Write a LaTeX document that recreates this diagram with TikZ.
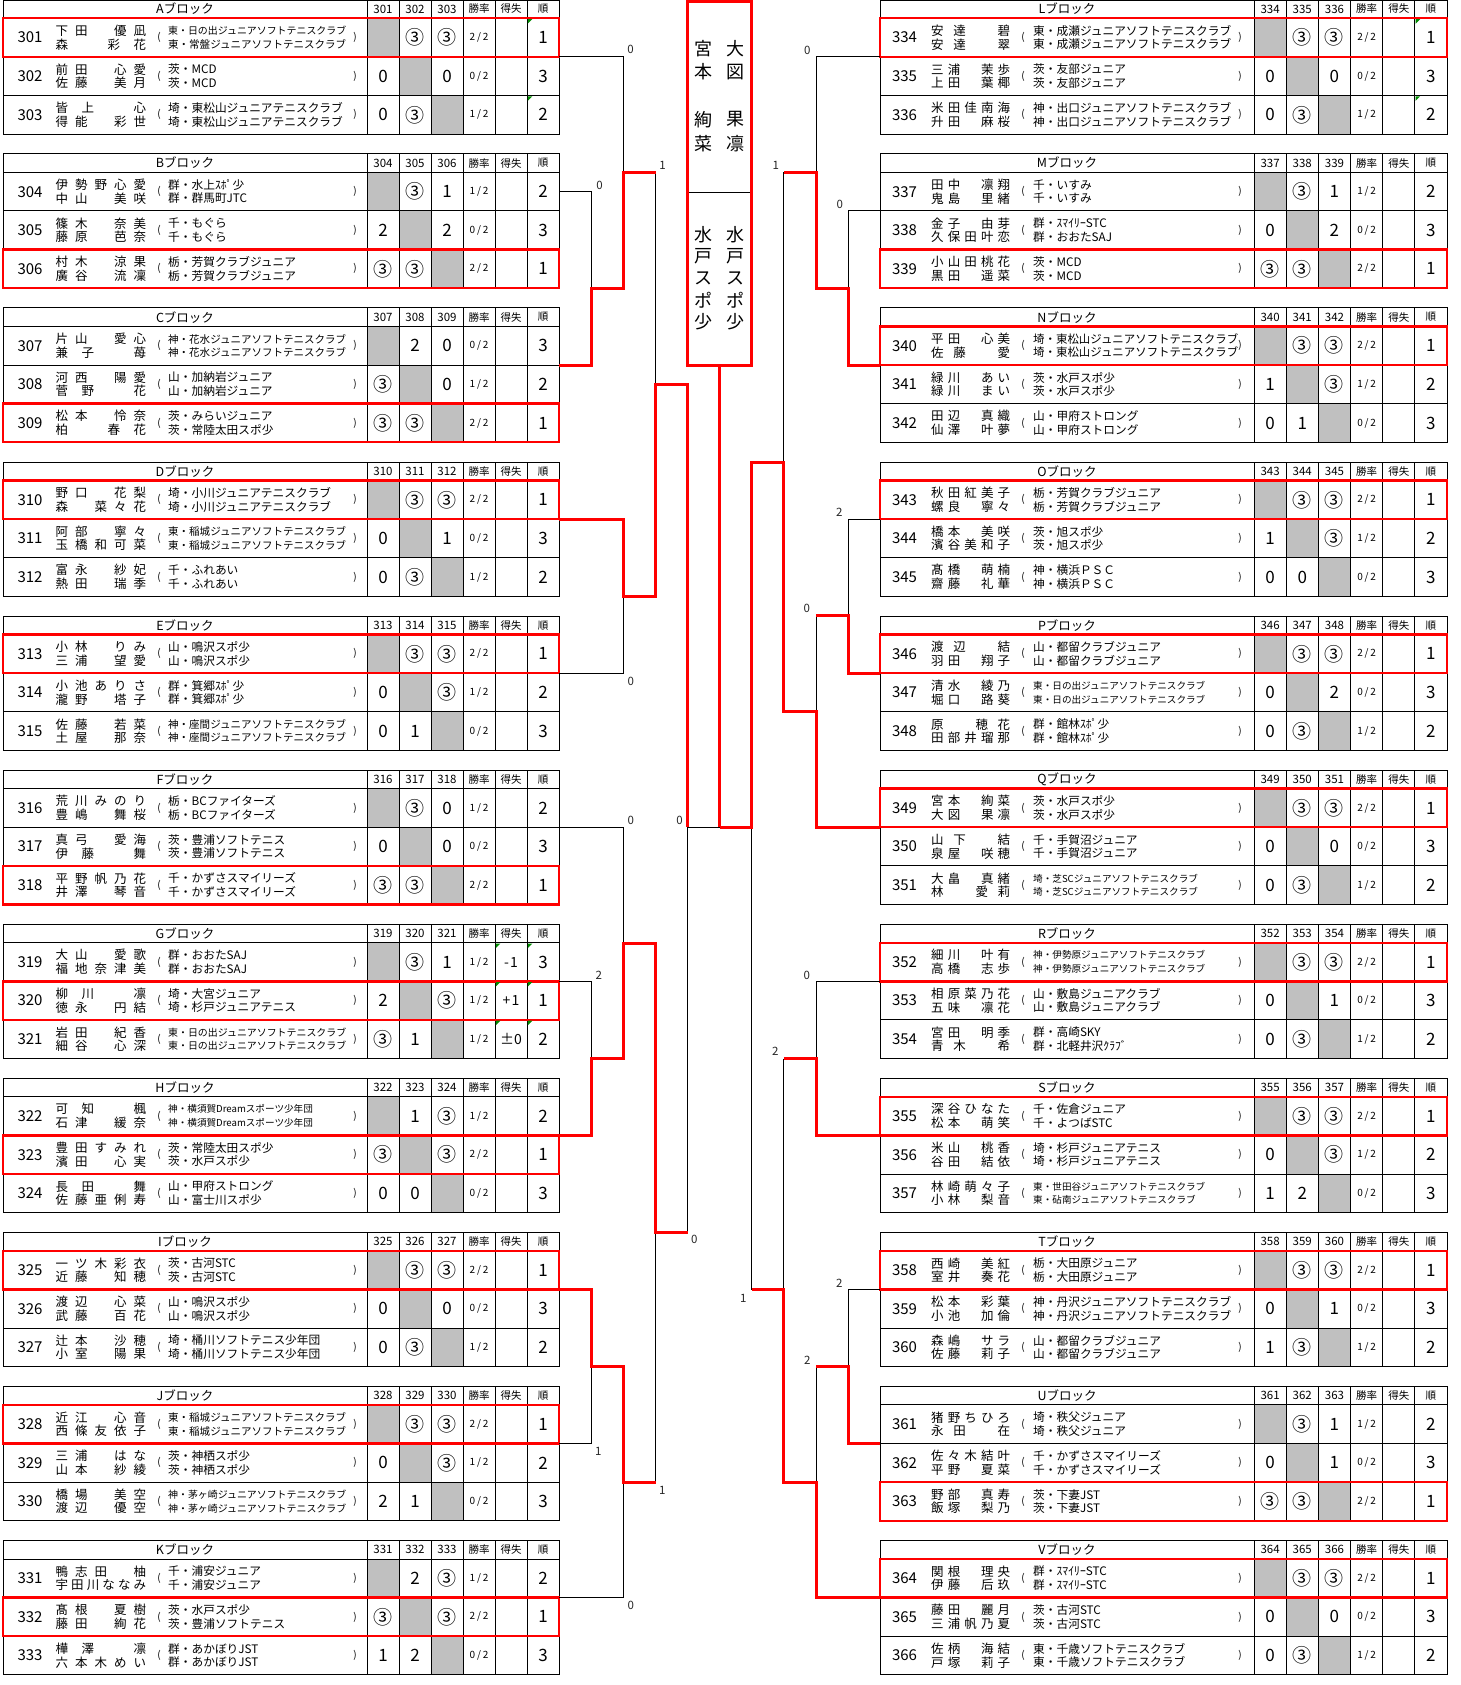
\documentclass[tikz,border=0pt]{standalone}
\usepackage{fontspec}
\setmainfont{Noto Sans CJK JP}
\usepackage{graphicx}
\definecolor{rd}{RGB}{255,0,0}
\definecolor{gr}{RGB}{192,192,192}
\definecolor{gm}{RGB}{0,140,0}
\newcommand\fs[1]{\fontsize{#1}{#1}\selectfont}
\ExplSyntaxOn
\bool_new:N \l__dist_first_bool
\NewDocumentCommand \distr { m m }
  {
    \hbox_to_wd:nn { #1 }
      {
        \bool_set_true:N \l__dist_first_bool
        \tl_map_inline:nn { #2 }
          {
            \bool_if:NF \l__dist_first_bool { \hfill }
            \bool_set_false:N \l__dist_first_bool
            \tl_if_eq:nnTF { ##1 } { * } { \hbox_to_wd:nn { 1em } { } } { ##1 }
          }
      }
  }
\ExplSyntaxOff
\newcommand\cir{{\fs{19}③}}
\def\rtx#1/#2\relax{#1\kern1.8pt/\kern1.8pt#2}
\def\sideL{\def\xA{3}\def\xB{559}\def\xS{367}\def\cW{32}\def\numX{30}\def\nameX{55.4}\def\nameW{90.6}\def\parL{159}\def\clubX{168}\def\clubW{178}\def\parR{355}}
\def\sideR{\def\xA{880}\def\xB{1447}\def\xS{1254}\def\cW{32.17}\def\numX{904.5}\def\nameX{931}\def\nameW{79}\def\parL{1023}\def\clubX{1033}\def\clubW{205}\def\parR{1240}}
\newcommand\fitbox[1]{\sbox4{#1}\ifdim\wd4>\clubW pt\resizebox{\clubW pt}{!}{\usebox4}\else\usebox4\fi}
\newcommand\clubs[3]{%
  \def\clubfs{11.7}%
  \ifx s#1\def\clubfs{9.6}\fi
  \ifx a#1%
    \sbox0{\fs{11.7}#2}\sbox2{\fs{11.7}#3}%
    \ifdim\wd0>\clubW pt\def\clubfs{9.6}\fi
    \ifdim\wd2>\clubW pt\def\clubfs{9.6}\fi
  \fi
  \node[club] (ca\rn) at (\clubX,\cy-6.8) {\fitbox{\fs{\clubfs}#2}};
  \node[club] (cb\rn) at (\clubX,\cy+6.8) {\fitbox{\fs{\clubfs}#3}};
}
\newcommand\TBlock[7]{%
  \csname side#1\endcsname
  \pgfmathsetmacro\Rk{18.3+154.07*#2}%
  \pgfmathsetmacro\Hk{max(0.6,\Rk-18.5)}%
  \pgfmathsetmacro\Bk{\Rk+115.8}%
  \pgfmathsetmacro\gA{\xS}\pgfmathsetmacro\gB{\xS+\cW}\pgfmathsetmacro\gC{\xS+2*\cW}%
  \fill[gr] (\gA,\Rk) rectangle ++(\cW,38.6);
  \fill[gr] (\gB,\Rk+38.6) rectangle ++(\cW,38.6);
  \fill[gr] (\gC,\Rk+77.2) rectangle ++(\cW,38.6);
  \draw[tbl] (\xA,\Hk) rectangle (\xB,\Bk);
  \draw[tbl] (\xA,\Rk) -- (\xB,\Rk) (\xA,\Rk+38.6) -- (\xB,\Rk+38.6) (\xA,\Rk+77.2) -- (\xB,\Rk+77.2);
  \foreach \cc in {0,...,5}{\draw[tbl] ({\xS+\cW*\cc},\Hk) -- ({\xS+\cW*\cc},\Bk);}
  \node[hdr] (hd#3) at ({(\xA+\xS)/2},\Rk-9.3) {#3ブロック};
  \node[chd] (ha#3) at (\xS+\cW*0.5,\Rk-9.3) {#4};
  \node[chd] (hb#3) at (\xS+\cW*1.5,\Rk-9.3) {#5};
  \node[chd] (hc#3) at (\xS+\cW*2.5,\Rk-9.3) {#6};
  \node[chj] (hr#3) at (\xS+\cW*3.5,\Rk-9.3) {勝率};
  \node[chj] (hs#3) at (\xS+\cW*4.5,\Rk-9.3) {得失};
  \node[chj] (hk#3) at (\xS+\cW*5.5,\Rk-9.3) {順};
  \draw[redbox] (\xA,\Rk+38.6*#7) rectangle (\xB,\Rk+38.6*#7+38.6);
}
\newcommand\TRow[9]{%
  \csname side#1\endcsname
  \pgfmathsetmacro\cy{18.3+154.07*#2+38.6*#3+19.3}%
  \def\rn{#4}%
  \node[num] (n#4) at (\numX,\cy) {#4};
  \node[nm] (na#4) at (\nameX,\cy-6.8) {\distr{\nameW pt}{#5}};
  \node[nm] (nb#4) at (\nameX,\cy+6.8) {\distr{\nameW pt}{#6}};
  \node[par] (pl#4) at (\parL,\cy) {(};
  \node[par] (pr#4) at (\parR,\cy) {)};
  \clubs{#9}{#7}{#8}%
  \TSc}
\newcommand\TSc[6]{%
  \node[sc] (sa\rn) at (\xS+\cW*0.5,\cy) {#1};
  \node[sc] (sb\rn) at (\xS+\cW*1.5,\cy) {#2};
  \node[sc] (sc\rn) at (\xS+\cW*2.5,\cy) {#3};
  \node[rate] (sr\rn) at (\xS+\cW*3.5,\cy) {\rtx#4\relax};
  \node[dif] (sd\rn) at (\xS+\cW*4.5,\cy) {#5};
  \node[rank] (sk\rn) at (\xS+\cW*5.5,\cy) {#6};
}
\newcommand\gmk[4]{\csname side#1\endcsname
  \pgfmathsetmacro\gx{\xS+\cW*#4}\pgfmathsetmacro\gy{18.3+154.07*#2+38.6*#3}%
  \fill[gm] (\gx+0.8,\gy+0.8) -- ++(4.5,0) -- ++(-4.5,4.5) -- cycle;}
\tikzset{
 tbl/.style={draw=black, line width=1pt},
 redbox/.style={draw=rd, line width=2.4pt},
 num/.style={inner sep=0pt, font=\fs{15}},
 nm/.style={inner sep=0pt, anchor=west, font=\fs{12.5}},
 club/.style={inner sep=0pt, anchor=west},
 par/.style={inner sep=0pt, font=\fs{10}},
 sc/.style={inner sep=0pt, font=\fs{17}},
 dif/.style={inner sep=0pt, font=\fs{14}},
 rate/.style={inner sep=0pt, font=\fs{10}},
 rank/.style={inner sep=0pt, font=\fs{17}},
 hdr/.style={inner sep=0pt, font=\fs{12.5}},
 chd/.style={inner sep=0pt, font=\fs{11.5}},
 chj/.style={inner sep=0pt, font=\fs{10.5}},
 bk/.style={draw=black, line width=1pt},
 rl/.style={draw=rd, line width=3pt, line join=miter},
 lbl/.style={inner sep=0pt, font=\fs{11.5}, text=black!85},
 vt/.style={inner sep=0pt, font=\fs{18}},
}
\begin{document}
\begin{tikzpicture}[x=1pt,y=-1pt]
\fill[white] (0,0) rectangle (1460,1685);
\useasboundingbox (0,0) rectangle (1460,1685);

% ---------------- left tables
\TBlock{L}{0}{A}{301}{302}{303}{0}
\TRow{L}{0}{0}{301}{下田*優凪}{森*彩花}{東・日の出ジュニアソフトテニスクラブ}{東・常盤ジュニアソフトテニスクラブ}{a}{}{\cir}{\cir}{2/2}{}{1}
\TRow{L}{0}{1}{302}{前田*心愛}{佐藤*美月}{茨・MCD}{茨・MCD}{a}{0}{}{0}{0/2}{}{3}
\TRow{L}{0}{2}{303}{皆上*心}{得能*彩世}{埼・東松山ジュニアテニスクラブ}{埼・東松山ジュニアテニスクラブ}{a}{0}{\cir}{}{1/2}{}{2}

\TBlock{L}{1}{B}{304}{305}{306}{2}
\TRow{L}{1}{0}{304}{伊勢野心愛}{中山*美咲}{群・水上ｽﾎﾟ少}{群・群馬町JTC}{a}{}{\cir}{1}{1/2}{}{2}
\TRow{L}{1}{1}{305}{篠木*奈美}{藤原*芭奈}{千・もぐら}{千・もぐら}{a}{2}{}{2}{0/2}{}{3}
\TRow{L}{1}{2}{306}{村木*涼果}{廣谷*流凜}{栃・芳賀クラブジュニア}{栃・芳賀クラブジュニア}{a}{\cir}{\cir}{}{2/2}{}{1}

\TBlock{L}{2}{C}{307}{308}{309}{2}
\TRow{L}{2}{0}{307}{片山*愛心}{兼子*苺}{神・花水ジュニアソフトテニスクラブ}{神・花水ジュニアソフトテニスクラブ}{a}{}{2}{0}{0/2}{}{3}
\TRow{L}{2}{1}{308}{河西*陽愛}{菅野*花}{山・加納岩ジュニア}{山・加納岩ジュニア}{a}{\cir}{}{0}{1/2}{}{2}
\TRow{L}{2}{2}{309}{松本*怜奈}{柏*春花}{茨・みらいジュニア}{茨・常陸太田スポ少}{a}{\cir}{\cir}{}{2/2}{}{1}

\TBlock{L}{3}{D}{310}{311}{312}{0}
\TRow{L}{3}{0}{310}{野口*花梨}{森*菜々花}{埼・小川ジュニアテニスクラブ}{埼・小川ジュニアテニスクラブ}{a}{}{\cir}{\cir}{2/2}{}{1}
\TRow{L}{3}{1}{311}{阿部*寧々}{玉橋和可菜}{東・稲城ジュニアソフトテニスクラブ}{東・稲城ジュニアソフトテニスクラブ}{a}{0}{}{1}{0/2}{}{3}
\TRow{L}{3}{2}{312}{富永*紗妃}{熱田*瑞季}{千・ふれあい}{千・ふれあい}{a}{0}{\cir}{}{1/2}{}{2}

\TBlock{L}{4}{E}{313}{314}{315}{0}
\TRow{L}{4}{0}{313}{小林*りみ}{三浦*望愛}{山・鳴沢スポ少}{山・鳴沢スポ少}{a}{}{\cir}{\cir}{2/2}{}{1}
\TRow{L}{4}{1}{314}{小池ありさ}{瀧野*塔子}{群・箕郷ｽﾎﾟ少}{群・箕郷ｽﾎﾟ少}{a}{0}{}{\cir}{1/2}{}{2}
\TRow{L}{4}{2}{315}{佐藤*若菜}{土屋*那奈}{神・座間ジュニアソフトテニスクラブ}{神・座間ジュニアソフトテニスクラブ}{a}{0}{1}{}{0/2}{}{3}

\TBlock{L}{5}{F}{316}{317}{318}{2}
\TRow{L}{5}{0}{316}{荒川みのり}{豊嶋*舞桜}{栃・BCファイターズ}{栃・BCファイターズ}{a}{}{\cir}{0}{1/2}{}{2}
\TRow{L}{5}{1}{317}{真弓*愛海}{伊藤*舞}{茨・豊浦ソフトテニス}{茨・豊浦ソフトテニス}{a}{0}{}{0}{0/2}{}{3}
\TRow{L}{5}{2}{318}{平野帆乃花}{井澤*琴音}{千・かずさスマイリーズ}{千・かずさスマイリーズ}{a}{\cir}{\cir}{}{2/2}{}{1}

\TBlock{L}{6}{G}{319}{320}{321}{1}
\TRow{L}{6}{0}{319}{大山*愛歌}{福地奈津美}{群・おおたSAJ}{群・おおたSAJ}{a}{}{\cir}{1}{1/2}{-\kern1pt1}{3}
\TRow{L}{6}{1}{320}{柳川*凛}{徳永*円結}{埼・大宮ジュニア}{埼・杉戸ジュニアテニス}{a}{2}{}{\cir}{1/2}{+\kern1pt1}{1}
\TRow{L}{6}{2}{321}{岩田*紀香}{細谷*心深}{東・日の出ジュニアソフトテニスクラブ}{東・日の出ジュニアソフトテニスクラブ}{a}{\cir}{1}{}{1/2}{±0}{2}

\TBlock{L}{7}{H}{322}{323}{324}{1}
\TRow{L}{7}{0}{322}{可知*楓}{石津*緩奈}{神・横須賀Dreamスポーツ少年団}{神・横須賀Dreamスポーツ少年団}{s}{}{1}{\cir}{1/2}{}{2}
\TRow{L}{7}{1}{323}{豊田すみれ}{濱田*心実}{茨・常陸太田スポ少}{茨・水戸スポ少}{a}{\cir}{}{\cir}{2/2}{}{1}
\TRow{L}{7}{2}{324}{長田*舞}{佐藤亜俐寿}{山・甲府ストロング}{山・富士川スポ少}{a}{0}{0}{}{0/2}{}{3}

\TBlock{L}{8}{I}{325}{326}{327}{0}
\TRow{L}{8}{0}{325}{一ツ木彩衣}{近藤*知穂}{茨・古河STC}{茨・古河STC}{a}{}{\cir}{\cir}{2/2}{}{1}
\TRow{L}{8}{1}{326}{渡辺*心菜}{武藤*百花}{山・鳴沢スポ少}{山・鳴沢スポ少}{a}{0}{}{0}{0/2}{}{3}
\TRow{L}{8}{2}{327}{辻本*沙穂}{小室*陽果}{埼・桶川ソフトテニス少年団}{埼・桶川ソフトテニス少年団}{a}{0}{\cir}{}{1/2}{}{2}

\TBlock{L}{9}{J}{328}{329}{330}{0}
\TRow{L}{9}{0}{328}{近江*心音}{西條友依子}{東・稲城ジュニアソフトテニスクラブ}{東・稲城ジュニアソフトテニスクラブ}{a}{}{\cir}{\cir}{2/2}{}{1}
\TRow{L}{9}{1}{329}{三浦*はな}{山本*紗綾}{茨・神栖スポ少}{茨・神栖スポ少}{a}{0}{}{\cir}{1/2}{}{2}
\TRow{L}{9}{2}{330}{橋場*美空}{渡辺*優空}{神・茅ヶ崎ジュニアソフトテニスクラブ}{神・茅ヶ崎ジュニアソフトテニスクラブ}{a}{2}{1}{}{0/2}{}{3}

\TBlock{L}{10}{K}{331}{332}{333}{1}
\TRow{L}{10}{0}{331}{鴨志田*柚}{宇田川ななみ}{千・浦安ジュニア}{千・浦安ジュニア}{a}{}{2}{\cir}{1/2}{}{2}
\TRow{L}{10}{1}{332}{髙根*夏樹}{藤田*絢花}{茨・水戸スポ少}{茨・豊浦ソフトテニス}{a}{\cir}{}{\cir}{2/2}{}{1}
\TRow{L}{10}{2}{333}{樺澤*凛}{六本木めい}{群・あかぼりJST}{群・あかぼりJST}{a}{1}{2}{}{0/2}{}{3}

% ---------------- right tables
\TBlock{R}{0}{L}{334}{335}{336}{0}
\TRow{R}{0}{0}{334}{安達*碧}{安達*翠}{東・成瀬ジュニアソフトテニスクラブ}{東・成瀬ジュニアソフトテニスクラブ}{a}{}{\cir}{\cir}{2/2}{}{1}
\TRow{R}{0}{1}{335}{三浦*茉歩}{上田*葉椰}{茨・友部ジュニア}{茨・友部ジュニア}{a}{0}{}{0}{0/2}{}{3}
\TRow{R}{0}{2}{336}{米田佳南海}{升田*麻桜}{神・出口ジュニアソフトテニスクラブ}{神・出口ジュニアソフトテニスクラブ}{a}{0}{\cir}{}{1/2}{}{2}

\TBlock{R}{1}{M}{337}{338}{339}{2}
\TRow{R}{1}{0}{337}{田中*凛翔}{鬼島*里緒}{千・いすみ}{千・いすみ}{a}{}{\cir}{1}{1/2}{}{2}
\TRow{R}{1}{1}{338}{金子*由芽}{久保田叶恋}{群・ｽﾏｲﾘｰSTC}{群・おおたSAJ}{a}{0}{}{2}{0/2}{}{3}
\TRow{R}{1}{2}{339}{小山田桃花}{黒田*遥菜}{茨・MCD}{茨・MCD}{a}{\cir}{\cir}{}{2/2}{}{1}

\TBlock{R}{2}{N}{340}{341}{342}{0}
\TRow{R}{2}{0}{340}{平田*心美}{佐藤*愛}{埼・東松山ジュニアソフトテニスクラブ}{埼・東松山ジュニアソフトテニスクラブ}{n}{}{\cir}{\cir}{2/2}{}{1}
\TRow{R}{2}{1}{341}{緑川*あい}{緑川*まい}{茨・水戸スポ少}{茨・水戸スポ少}{a}{1}{}{\cir}{1/2}{}{2}
\TRow{R}{2}{2}{342}{田辺*真織}{仙澤*叶夢}{山・甲府ストロング}{山・甲府ストロング}{a}{0}{1}{}{0/2}{}{3}

\TBlock{R}{3}{O}{343}{344}{345}{0}
\TRow{R}{3}{0}{343}{秋田紅美子}{螺良*寧々}{栃・芳賀クラブジュニア}{栃・芳賀クラブジュニア}{a}{}{\cir}{\cir}{2/2}{}{1}
\TRow{R}{3}{1}{344}{橋本*美咲}{濱谷美和子}{茨・旭スポ少}{茨・旭スポ少}{a}{1}{}{\cir}{1/2}{}{2}
\TRow{R}{3}{2}{345}{髙橋*萌楠}{齋藤*礼華}{神・横浜ＰＳＣ}{神・横浜ＰＳＣ}{a}{0}{0}{}{0/2}{}{3}

\TBlock{R}{4}{P}{346}{347}{348}{0}
\TRow{R}{4}{0}{346}{渡辺*結}{羽田*翔子}{山・都留クラブジュニア}{山・都留クラブジュニア}{a}{}{\cir}{\cir}{2/2}{}{1}
\TRow{R}{4}{1}{347}{清水*綾乃}{堀口*路葵}{東・日の出ジュニアソフトテニスクラブ}{東・日の出ジュニアソフトテニスクラブ}{s}{0}{}{2}{0/2}{}{3}
\TRow{R}{4}{2}{348}{原*穂花}{田部井瑠那}{群・館林ｽﾎﾟ少}{群・館林ｽﾎﾟ少}{a}{0}{\cir}{}{1/2}{}{2}

\TBlock{R}{5}{Q}{349}{350}{351}{0}
\TRow{R}{5}{0}{349}{宮本*絢菜}{大図*果凛}{茨・水戸スポ少}{茨・水戸スポ少}{a}{}{\cir}{\cir}{2/2}{}{1}
\TRow{R}{5}{1}{350}{山下*結}{泉屋*咲穂}{千・手賀沼ジュニア}{千・手賀沼ジュニア}{a}{0}{}{0}{0/2}{}{3}
\TRow{R}{5}{2}{351}{大畠*真緒}{林*愛莉}{埼・芝SCジュニアソフトテニスクラブ}{埼・芝SCジュニアソフトテニスクラブ}{s}{0}{\cir}{}{1/2}{}{2}

\TBlock{R}{6}{R}{352}{353}{354}{0}
\TRow{R}{6}{0}{352}{細川*叶有}{高橋*志歩}{神・伊勢原ジュニアソフトテニスクラブ}{神・伊勢原ジュニアソフトテニスクラブ}{s}{}{\cir}{\cir}{2/2}{}{1}
\TRow{R}{6}{1}{353}{相原菜乃花}{五味*凛花}{山・敷島ジュニアクラブ}{山・敷島ジュニアクラブ}{a}{0}{}{1}{0/2}{}{3}
\TRow{R}{6}{2}{354}{宮田*明季}{青木*希}{群・高崎SKY}{群・北軽井沢ｸﾗﾌﾞ}{a}{0}{\cir}{}{1/2}{}{2}

\TBlock{R}{7}{S}{355}{356}{357}{0}
\TRow{R}{7}{0}{355}{深谷ひなた}{松本*萌笑}{千・佐倉ジュニア}{千・よつばSTC}{a}{}{\cir}{\cir}{2/2}{}{1}
\TRow{R}{7}{1}{356}{米山*桃香}{谷田*結依}{埼・杉戸ジュニアテニス}{埼・杉戸ジュニアテニス}{a}{0}{}{\cir}{1/2}{}{2}
\TRow{R}{7}{2}{357}{林崎萌々子}{小林*梨音}{東・世田谷ジュニアソフトテニスクラブ}{東・砧南ジュニアソフトテニスクラブ}{s}{1}{2}{}{0/2}{}{3}

\TBlock{R}{8}{T}{358}{359}{360}{0}
\TRow{R}{8}{0}{358}{西崎*美紅}{室井*奏花}{栃・大田原ジュニア}{栃・大田原ジュニア}{a}{}{\cir}{\cir}{2/2}{}{1}
\TRow{R}{8}{1}{359}{松本*彩葉}{小池*加倫}{神・丹沢ジュニアソフトテニスクラブ}{神・丹沢ジュニアソフトテニスクラブ}{a}{0}{}{1}{0/2}{}{3}
\TRow{R}{8}{2}{360}{森嶋*サラ}{佐藤*莉子}{山・都留クラブジュニア}{山・都留クラブジュニア}{a}{1}{\cir}{}{1/2}{}{2}

\TBlock{R}{9}{U}{361}{362}{363}{2}
\TRow{R}{9}{0}{361}{猪野ちひろ}{永田*在}{埼・秩父ジュニア}{埼・秩父ジュニア}{a}{}{\cir}{1}{1/2}{}{2}
\TRow{R}{9}{1}{362}{佐々木結叶}{平野*夏菜}{千・かずさスマイリーズ}{千・かずさスマイリーズ}{a}{0}{}{1}{0/2}{}{3}
\TRow{R}{9}{2}{363}{野部*真寿}{飯塚*梨乃}{茨・下妻JST}{茨・下妻JST}{a}{\cir}{\cir}{}{2/2}{}{1}

\TBlock{R}{10}{V}{364}{365}{366}{0}
\TRow{R}{10}{0}{364}{関根*理央}{伊藤*后玖}{群・ｽﾏｲﾘｰSTC}{群・ｽﾏｲﾘｰSTC}{a}{}{\cir}{\cir}{2/2}{}{1}
\TRow{R}{10}{1}{365}{藤田*麗月}{三浦帆乃夏}{茨・古河STC}{茨・古河STC}{a}{0}{}{0}{0/2}{}{3}
\TRow{R}{10}{2}{366}{佐柄*海結}{戸塚*莉子}{東・千歳ソフトテニスクラブ}{東・千歳ソフトテニスクラブ}{a}{0}{\cir}{}{1/2}{}{2}

% comment markers
\gmk{L}{0}{0}{5}\gmk{L}{0}{2}{5}\gmk{R}{0}{0}{5}\gmk{R}{0}{2}{5}
\gmk{L}{6}{0}{4}\gmk{L}{6}{1}{4}\gmk{L}{6}{2}{4}
\gmk{L}{6}{0}{5}\gmk{L}{6}{1}{5}\gmk{L}{6}{2}{5}

% ---------------- bracket: black
\draw[bk] (559,56.9) -- (623.3,56.9) -- (623.3,172.4);
\draw[bk] (559,191.7) -- (591.3,191.7) -- (591.3,288.2);
\draw[bk] (655.7,172.4) -- (655.7,384.3);
\draw[bk] (623.3,596.3) -- (623.3,673.2) -- (559,673.2);
\draw[bk] (559,827.3) -- (623.3,827.3) -- (623.3,943.3);
\draw[bk] (559,981.3) -- (591.3,981.3) -- (591.3,1058.5);
\draw[bk] (687.7,827.3) -- (687.7,1232.3);
\draw[bk] (687.7,827.3) -- (719.5,827.3);
\draw[bk] (559,1443.6) -- (591.3,1443.6) -- (591.3,1366.7);
\draw[bk] (559,1597.6) -- (623.3,1597.6) -- (623.3,1482.2);
\draw[bk] (655.7,1482.2) -- (655.7,1232.3);
\draw[bk] (880,56.9) -- (816,56.9) -- (816,172.4);
\draw[bk] (880,211) -- (848,211) -- (848,288.2);
\draw[bk] (783.7,172.4) -- (783.7,462);
\draw[bk] (880,519.1) -- (848,519.1) -- (848,615.5);
\draw[bk] (816,615.5) -- (816,711.8);
\draw[bk] (880,981.3) -- (816,981.3) -- (816,1058.5);
\draw[bk] (783.7,1058.5) -- (783.7,1289.5);
\draw[bk] (751.7,1289.5) -- (751.7,827.3);
\draw[bk] (880,1289.5) -- (848,1289.5) -- (848,1366.7);
\draw[bk] (816,1366.7) -- (816,1482.2);
\draw[bk] (687.7,192.3) -- (751.7,192.3);

% ---------------- bracket: red
\draw[rl] (559,365) -- (591.3,365) -- (591.3,288.2) -- (623.3,288.2) -- (623.3,172.4) -- (655.7,172.4);
\draw[rl] (559,519.1) -- (623.3,519.1) -- (623.3,596.3) -- (655.7,596.3) -- (655.7,384.3) -- (687.7,384.3) -- (687.7,827.3);
\draw[rl] (559,1135.4) -- (591.3,1135.4) -- (591.3,1058.5) -- (623.3,1058.5) -- (623.3,943.3) -- (655.7,943.3) -- (655.7,1232.3) -- (687.7,1232.3);
\draw[rl] (559,1289.5) -- (591.3,1289.5) -- (591.3,1366.7) -- (623.3,1366.7) -- (623.3,1482.2) -- (655.7,1482.2);
\draw[rl] (880,365) -- (848,365) -- (848,288.2) -- (816,288.2) -- (816,172.4) -- (783.7,172.4);
\draw[rl] (880,673.2) -- (848,673.2) -- (848,615.5) -- (816,615.5);
\draw[rl] (880,827.3) -- (816,827.3) -- (816,711.8) -- (783.7,711.8) -- (783.7,462) -- (751.7,462) -- (751.7,827.3) -- (719.5,827.3);
\draw[rl] (880,1135.4) -- (816,1135.4) -- (816,1058.5) -- (783.7,1058.5);
\draw[rl] (880,1443.6) -- (848,1443.6) -- (848,1366.7) -- (816,1366.7);
\draw[rl] (880,1597.6) -- (816,1597.6) -- (816,1482.2) -- (783.7,1482.2) -- (783.7,1289.5) -- (751.7,1289.5);
\draw[rl] (719.5,365) -- (719.5,827.3);
\draw[rl] (687.7,1.5) rectangle (751.7,365);

% ---------------- scores on bracket
\node[lbl] (la1) at (630.5,49.5) {0};
\node[lbl] (la2) at (599.5,185.5) {0};
\node[lbl] (la3) at (662.5,165.5) {1};
\node[lbl] (la4) at (630.7,681.7) {0};
\node[lbl] (la5) at (630.7,820) {0};
\node[lbl] (la6) at (679.5,820) {0};
\node[lbl] (la7) at (598.7,975) {2};
\node[lbl] (la8) at (694.3,1239.3) {0};
\node[lbl] (la9) at (598.3,1451.7) {1};
\node[lbl] (la10) at (662.3,1490.7) {1};
\node[lbl] (la11) at (630.7,1605.7) {0};
\node[lbl] (lb1) at (807.3,50) {0};
\node[lbl] (lb2) at (775.7,165.7) {1};
\node[lbl] (lb3) at (839.7,204) {0};
\node[lbl] (lb4) at (839.3,512.3) {2};
\node[lbl] (lb5) at (806.7,608.3) {0};
\node[lbl] (lb6) at (806.7,975) {0};
\node[lbl] (lb7) at (775.3,1051.7) {2};
\node[lbl] (lb8) at (743.3,1298.3) {1};
\node[lbl] (lb9) at (839.3,1283.3) {2};
\node[lbl] (lb10) at (807.3,1360) {2};

% ---------------- champion box text
\foreach \ch [count=\i from 0] in {宮,本,,絢,菜} \node[vt] (wa\i) at (703.3,48.3+23.75*\i) {\ch};
\foreach \ch [count=\i from 0] in {大,図,,果,凛} \node[vt] (wb\i) at (735.7,48.3+23.75*\i) {\ch};
\foreach \ch [count=\i from 0] in {水,戸,ス,ポ,少} \node[vt] (wc\i) at (703.3,235+21.7*\i) {\ch};
\foreach \ch [count=\i from 0] in {水,戸,ス,ポ,少} \node[vt] (wd\i) at (735.7,235+21.7*\i) {\ch};
\end{tikzpicture}
\end{document}
